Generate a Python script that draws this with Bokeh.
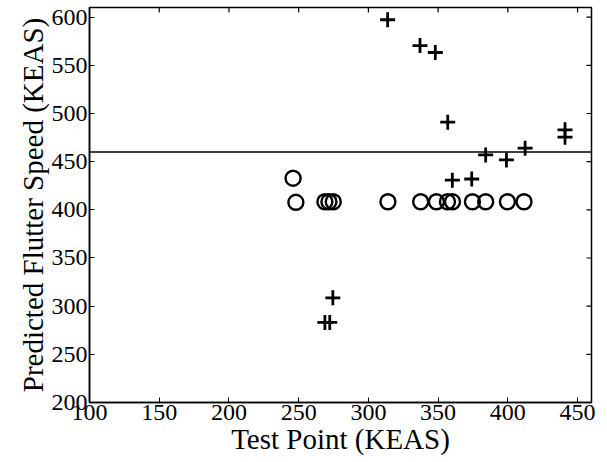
import math
from bokeh.plotting import figure
from bokeh.models import Span, Range1d, FixedTicker
from bokeh.embed import file_html
from bokeh.resources import INLINE

# Predicted flutter speed (plus markers)
plus_x = [313.8, 337.0, 348.0, 356.9, 360.2, 374.1, 384.1, 399.0, 412.4, 441.0, 441.0, 268.8, 272.3, 274.5]
plus_y = [597.3, 570.5, 563.3, 491.0, 430.8, 432.0, 457.0, 451.8, 464.0, 483.0, 475.4, 283.1, 283.1, 308.7]

# Circle markers
circ_x = [246.0, 248.0, 268.8, 271.7, 274.8, 314.0, 337.5, 348.8, 356.7, 360.3, 374.6, 384.1, 399.7, 411.6]
circ_y = [432.8, 407.8, 408.4, 408.4, 408.4, 408.4, 408.4, 408.4, 408.4, 408.4, 408.4, 408.4, 408.4, 408.4]

ref_speed = 460
x_ticks = [100, 150, 200, 250, 300, 350, 400, 450]
y_ticks = [200, 250, 300, 350, 400, 450, 500, 550, 600]
x_lim = (100, 460)
y_lim = (200, 610)

FONT = "Liberation Serif"

p = figure(width=603, height=460, output_backend="svg", toolbar_location=None,
           x_range=Range1d(*x_lim), y_range=Range1d(*y_lim),
           min_border_left=89, min_border_right=12, min_border_top=7, min_border_bottom=58)

p.background_fill_color = "white"
p.border_fill_color = "white"
p.outline_line_color = "black"
p.outline_line_width = 1.5
p.xgrid.visible = False
p.ygrid.visible = False

for ax, ticks in ((p.xaxis[0], x_ticks), (p.yaxis[0], y_ticks)):
    ax.ticker = FixedTicker(ticks=ticks)
    ax.major_tick_in = 5
    ax.major_tick_out = 0
    ax.minor_tick_line_color = None
    ax.axis_line_color = "black"
    ax.axis_line_width = 1.5
    ax.major_label_text_font = FONT
    ax.major_label_text_font_size = "24px"
    ax.major_label_text_color = "black"
    ax.axis_label_text_font = FONT
    ax.axis_label_text_font_size = "29px"
    ax.axis_label_text_font_style = "normal"
    ax.axis_label_text_color = "black"
    ax.major_label_standoff = 2
    ax.axis_label_standoff = 0

p.xaxis.axis_label = "Test Point (KEAS)"
p.yaxis.axis_label = "Predicted Flutter Speed (KEAS)"

# mirrored inward ticks on the top and right edges
p.ray(x=x_ticks, y=[y_lim[1]] * len(x_ticks), length=5, length_units="screen",
      angle=-math.pi / 2, line_color="black", line_width=1.2)
p.ray(x=[x_lim[1]] * len(y_ticks), y=y_ticks, length=5, length_units="screen",
      angle=math.pi, line_color="black", line_width=1.2)

p.add_layout(Span(location=ref_speed, dimension="width", line_color="black", line_width=1.6))

p.scatter(circ_x, circ_y, marker="circle", size=15, fill_color=None,
          line_color="black", line_width=2.4)
p.scatter(plus_x, plus_y, marker="cross", size=15, line_color="black", line_width=2.8)

open("out.html", "w").write(file_html(p, INLINE))
